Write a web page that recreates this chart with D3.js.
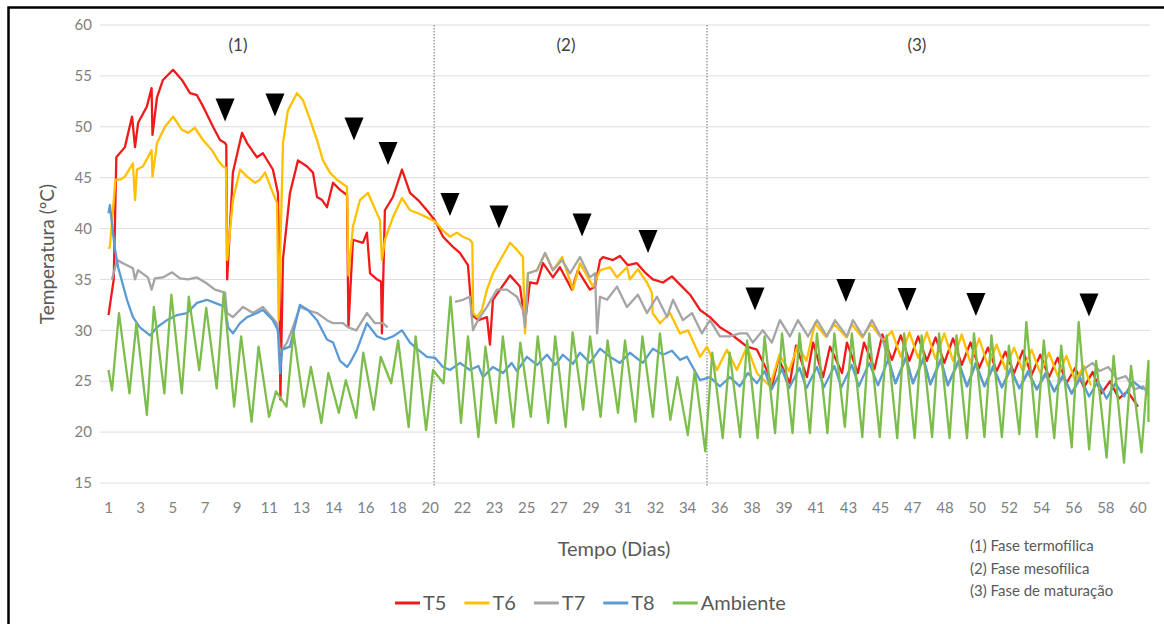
<!DOCTYPE html>
<html>
<head>
<meta charset="utf-8">
<script src="https://cdn.jsdelivr.net/npm/d3@7"></script>
<style>
  body { margin: 0; background: #fff; }
  text { font-family: Lato, "Open Sans", sans-serif; }
</style>
</head>
<body>
<div id="chart"></div>
<script>
// day labels shown under the category axis
const tickLabels = ["1","3","5","7","9","11","13","14","16","18","20","22","23","25","27","29","31","32","34","36","38","39","41","43","45","47","48","50","52","54","56","58","60"];
const yTicks = [15, 20, 25, 30, 35, 40, 45, 50, 55, 60];

const seriesNames = ["T5", "T6", "T7", "T8", "Ambiente"];
const seriesColors = ["#f01a1a", "#ffc000", "#a5a5a5", "#5b9bd5", "#7cbd4c"];

// phase boundaries (day) and phase captions
const phaseBounds = [19.66, 35.3];
const phaseLabels = ["(1)", "(2)", "(3)"];
const phaseLabelDays = [8.42, 27.22, 47.33];
const phaseNotes = ["(1) Fase termofílica", "(2) Fase mesofílica", "(3) Fase de maturação"];

// turning events [day, ºC]
const turnings = [[7.68, 51.65], [10.54, 52.14], [15.07, 49.78], [17.02, 47.38], [20.57, 42.37],
  [23.38, 41.14], [28.14, 40.35], [31.92, 38.73], [38.05, 33.08], [43.26, 33.92],
  [46.76, 33.03], [50.71, 32.54], [57.19, 32.5]];

// pile temperatures [day, ºC]
const t5 = [[1.0,31.5],[1.3,35],[1.45,47],[1.94,48],[2.35,51],[2.52,48],[2.7,50.4],[3.2,52],[3.47,53.8],[3.52,49.2],
  [3.78,52.9],[4.12,54.6],[4.7,55.6],[5.21,54.6],[5.67,53.3],[6.07,53.1],[6.42,52],[6.99,50],[7.39,48.7],[7.68,48.4],
  [7.75,48.2],[7.8,35],[8.13,45.5],[8.65,49.4],[8.94,48.4],[9.51,47],[9.85,47.4],[10.42,45.8],[10.71,43.5],[10.8,35],
  [10.85,23.2],[11.0,37],[11.4,43.5],[11.86,46.7],[12.38,46.1],[12.72,45.5],[12.95,43.1],[13.24,42.8],[13.52,42.1],[13.87,44.5],
  [14.27,43.8],[14.67,43.3],[14.75,30.3],[15.01,38.9],[15.58,38.6],[15.81,39.6],[15.99,35.6],[16.39,35],[16.62,34.8],[16.67,29.7],
  [16.84,41.8],[17.3,43.1],[17.82,45.8],[18.28,43.5],[18.74,42.8],[19.25,41.8],[19.71,40.8],[20.17,39.2],[20.74,38.2],[21.14,37.6],
  [21.6,36.4],[21.83,31.5],[22.2,31],[22.69,31.3],[22.86,28.6],[23.03,33],[23.44,34],[24.01,35.4],[24.58,34.3],[24.87,30.7],
  [25.15,34.7],[25.56,34.6],[25.9,36.6],[26.47,35.2],[26.87,36.2],[27.56,34],[27.9,35.9],[28.59,34],[28.88,34.3],[29.17,36.9],
  [29.34,37.2],[29.91,36.9],[30.31,37.3],[30.77,36.4],[31.28,36.6],[31.74,35.7],[32.2,35],[32.78,34.7],[33.29,35.3],[33.87,34.3],
  [34.33,33.5],[34.9,32],[35.47,31.3],[36.04,30.3],[36.61,29.7],[37.07,29.1],[37.59,28.4],[38.16,28.1],[38.73,26.1],[39.02,24.5],
  [39.4,27.2],[40.05,24.8],[40.4,28.5],[41.03,25.4],[41.38,28.8],[41.95,25.4],[42.35,28.4],[43.04,25.8],[43.32,28.8],[43.95,25.8],
  [44.3,28.8],[44.9,26.2],[45.35,29.6],[45.9,27.1],[46.4,29.5],[46.9,27],[47.4,29.4],[47.9,27],[48.4,29.3],[48.9,26.8],
  [49.4,29.2],[49.9,26.6],[50.4,28.8],[50.9,26.3],[51.4,28.3],[51.9,26],[52.4,27.9],[52.9,25.8],[53.4,28],[53.9,25.6],
  [54.4,27.6],[54.9,25.4],[55.4,27.3],[55.9,24.8],[56.4,26.3],[56.9,24.4],[57.4,25.9],[57.9,23.8],[58.4,25],[58.9,23.3],
  [59.4,24],[60.0,22.5]];

const t6 = [[1.0,38],[1.08,38.2],[1.4,44.8],[1.66,44.8],[1.94,45.1],[2.4,46.4],[2.52,42.8],[2.63,45.8],[2.97,46.1],[3.47,47.7],
  [3.52,45.1],[3.78,48.4],[4.24,50],[4.7,51],[5.21,49.7],[5.56,49.4],[5.95,49.9],[6.42,48.7],[6.93,47.7],[7.28,46.7],
  [7.56,46.1],[7.73,46],[7.8,36.9],[8.13,42.8],[8.54,45.8],[8.94,45.1],[9.4,44.5],[9.68,44.8],[9.97,45.5],[10.42,43.5],
  [10.66,42.5],[10.75,31],[11.0,48.4],[11.28,51.6],[11.8,53.3],[12.15,52.6],[12.55,50.7],[12.95,48.7],[13.29,46.7],[13.69,45.5],
  [14.09,44.8],[14.67,44.1],[14.75,35.4],[15.01,40.2],[15.41,42.8],[15.87,43.5],[16.56,40.8],[16.67,36.9],[16.84,38.9],[17.3,41.1],
  [17.82,43],[18.28,41.8],[18.74,41.5],[19.25,41.1],[19.71,40.7],[20.17,39.8],[20.57,39.2],[20.97,39.6],[21.31,39.2],[21.71,38.9],
  [21.85,38.6],[21.9,31.7],[22.12,31.3],[22.4,32],[22.69,34],[23.03,35.6],[23.55,37.2],[24.01,38.6],[24.41,37.9],[24.75,37.2],
  [24.87,29.7],[25.04,35.6],[25.56,35.9],[26.02,37.6],[26.47,35.9],[26.99,37.2],[27.62,34],[28.02,36.6],[28.77,34.3],[29.17,35.9],
  [29.74,36.2],[30.14,35.2],[30.71,36.2],[30.88,35],[31.34,36],[31.86,34.7],[32.14,33.7],[32.18,31.7],[32.61,30.7],[33.18,31.7],
  [33.75,29.7],[34.21,30],[34.9,27.4],[35.3,28.4],[35.87,26.1],[36.44,28.1],[37.01,26.1],[37.59,28.4],[38.16,25.8],[38.91,24.5],
  [39.45,27.6],[40.0,26],[40.5,28.5],[41.0,27],[41.49,30.7],[42.1,29.4],[42.6,30.6],[43.3,29.3],[43.6,30.6],[44.2,29.3],
  [44.7,30.6],[45.4,29],[45.9,29.9],[46.4,27.4],[46.9,29.8],[47.4,27.3],[47.9,29.8],[48.4,27.2],[48.9,29.7],[49.4,27],
  [49.9,29.6],[50.4,26.8],[50.9,29.2],[51.4,26.5],[51.9,28.6],[52.4,26.2],[52.9,28.3],[53.4,26],[53.9,28.1],[54.4,25.8],
  [54.9,27.8],[55.4,25.5],[55.9,27.5],[56.4,25],[56.9,26.5],[57.3,24.6]];

const t7 = [[1.2,35],[1.49,36.9],[1.83,36.6],[2.4,36.1],[2.52,35],[2.69,35.9],[3.26,35.2],[3.47,34],[3.66,35.1],[4.12,35.2],
  [4.64,35.7],[5.1,35.1],[5.56,35],[6.07,35.2],[6.64,34.6],[7.1,34],[7.68,33.7],[7.79,31.7],[8.13,31.3],[8.71,32.3],
  [9.28,31.7],[9.85,32.3],[10.66,30.7],[10.83,27.8],[11.23,28.8],[11.57,30.3],[11.97,32.3],[12.38,32],[12.95,31.7],[13.52,31],
  [13.87,30.7],[14.44,30.7],[14.73,30.3],[15.2,30],[15.81,31.7],[16.27,30.7],[16.73,30.7],[17.0,30.3],[17.05,null],
  [20.86,32.8],[21.31,33],[21.71,33.3],[21.89,30],[22.17,31],[22.69,32.3],[23.26,34],[23.84,34],[24.41,33.3],[24.75,32],
  [24.87,30.3],[25.04,35.6],[25.56,35.9],[26.02,37.6],[26.47,35.9],[26.99,36.9],[27.45,35.6],[28.02,37.2],[28.59,35.2],[28.88,35.6],
  [29.0,29.7],[29.17,33.3],[29.57,33],[30.14,34.3],[30.71,32.3],[31.34,33.5],[31.86,31.7],[32.43,33.3],[33.01,31.3],[33.35,33],
  [33.92,31],[34.44,31.7],[35.01,29.7],[35.47,31],[36.04,29.4],[36.61,29.4],[37.18,29.7],[37.59,29.7],[37.93,28.8],[38.5,30],
  [39.02,28.8],[39.48,31],[40.05,29.4],[40.51,31],[41.09,29.4],[41.6,31],[42.17,29.4],[42.63,31],[43.32,29.4],[43.66,31],
  [44.24,29.4],[44.75,31],[45.38,29],[45.7,27],[46.1,24.8],[46.7,27.2],[47.1,24.8],[47.7,27.1],[48.1,24.7],[48.7,27],
  [49.1,24.6],[49.7,26.8],[50.2,24.5],[50.7,26.6],[51.2,24.5],[51.7,26.3],[52.2,24.4],[52.7,26.1],[53.2,24.3],[53.7,25.8],
  [54.2,24.2],[54.7,25.6],[55.2,24],[55.7,25.4],[56.2,23.8],[56.9,26.2],[57.4,26.8],[57.8,26],[58.3,26.4],[58.8,25.2],
  [59.3,25.5],[59.8,24.2],[60.3,24.5],[60.6,23.6]];

const t8 = [[1.0,41.5],[1.08,42.3],[1.35,38.2],[1.55,36.2],[2.06,33],[2.4,31.3],[2.8,30.3],[3.38,29.5],[3.78,30.3],[4.35,31],
  [4.93,31.5],[5.5,31.7],[6.07,32.7],[6.64,33],[7.1,32.7],[7.68,32.3],[7.85,30.3],[8.13,29.7],[8.54,30.7],[8.94,31.3],
  [9.51,31.7],[9.85,32],[10.42,31],[10.71,30],[10.83,25.8],[10.95,28.1],[11.4,28.4],[11.97,32.5],[12.43,32],[12.95,31],
  [13.52,29.1],[13.87,28.8],[14.27,27],[14.67,26.4],[14.84,26.8],[15.24,28.1],[15.81,30.7],[16.39,29.4],[16.84,29.1],[17.3,29.4],
  [17.82,30],[18.28,28.8],[18.74,28.1],[19.25,27.4],[19.71,27.3],[20.17,26.4],[20.57,26.1],[21.14,26.8],[21.71,26.1],[22.2,26.5],
  [22.46,25.4],[23.03,26.4],[23.61,25.8],[24.1,26.8],[24.41,26],[24.98,27.4],[25.56,26.6],[26.13,27.6],[26.6,26.6],[27.04,27.6],
  [27.62,26.7],[28.02,27.8],[28.59,26.8],[29.17,28.2],[29.74,27.4],[30.31,26.8],[30.88,27.8],[31.62,26.8],[32.2,28.2],[32.78,27.6],
  [33.29,28],[33.75,27.1],[34.15,27.4],[34.9,25.1],[35.47,25.4],[36.04,24.5],[36.61,25.4],[37.18,24.5],[37.64,25.8],[38.16,24.8],
  [38.6,26],[39.0,24.2],[39.6,26.2],[40.0,24.3],[40.6,26.3],[41.0,24.3],[41.6,26.4],[42.0,24.4],[42.6,26.5],[43.0,24.4],
  [43.6,26.6],[44.0,24.5],[44.6,26.8],[45.1,24.6],[45.7,27.2],[46.1,24.8],[46.7,27.4],[47.1,24.8],[47.7,27.3],[48.1,24.7],
  [48.7,27.2],[49.1,24.6],[49.7,27],[50.2,24.5],[50.7,26.8],[51.2,24.5],[51.7,26.5],[52.2,24.4],[52.7,26.3],[53.2,24.3],
  [53.7,26],[54.2,24.2],[54.7,25.8],[55.2,24],[55.7,25.6],[56.2,23.8],[56.7,25.3],[57.2,23.5],[57.7,25],[58.2,23.3],
  [58.7,24.8],[59.2,23.5],[59.7,25],[60.3,24.2]];

// ambient: daily minimum and maximum, days 1..60
const ambStart = [1.0, 26.1];
const ambEnd = [60.6, 21];
const ambLow = [24.1,23.8,21.7,23.8,23.8,26.1,24.3,22.5,21.0,21.5, 22.5,22.5,20.9,21.9,21.4,22.2,24.8,20.5,20.2,24.8,
  20.9,19.5,20.9,20.5,21.5,20.9,20.5,22.2,21.5,21.9, 21.0,21.5,21.2,19.7,18.1,19.4,19.5,19.4,19.9,19.9,
  19.9,19.9,20.5,19.5,19.5,19.4,19.4,19.5,19.4,19.4, 19.5,19.5,19.8,19.5,19.4,18.5,18.3,17.5,17.0,18.0];
const ambPeak = [31.7,30.7,32.3,33.5,33.3,32.2,33.7,29.4,28.4,24.0, 29.8,26.4,25.8,25.1,27.8,27.4,29.0,29.4,26.1,33.3,
  29.4,28.4,29.4,28.8,29.4,29.4,29.8,29.4,29.0,29.0, 29.4,29.7,25.4,26.1,27.8,27.8,29.0,29.4,29.7,29.7,
  29.7,29.7,29.7,29.7,29.5,29.7,29.5,29.7,29.5,29.7, 29.5,28.5,30.8,29.0,28.5,30.8,27.0,27.5,26.5,27.0];

const ambient = [ambStart];
ambLow.forEach((lo, i) => {
  ambient.push([i + 1.2, lo]);
  ambient.push([i + 1.6, ambPeak[i]]);
});
ambient.push(ambEnd);

const allSeries = [t5, t6, t7, t8, ambient];

const width = 1164, height = 624;
const plot = { left: 100, right: 1150, top: 25, bottom: 483 };

const svg = d3.select("#chart").append("svg")
  .attr("width", width)
  .attr("height", height);

const x = d3.scaleLinear().domain([1, 60]).range([108.5, 1138]);
const y = d3.scaleLinear().domain([15, 60]).range([plot.bottom, plot.top]);

// frame (only top and left edges fall inside the page)
svg.append("path")
  .attr("d", `M8.5,${height + 5}V7.5H${width + 5}`)
  .attr("fill", "none")
  .attr("stroke", "#000")
  .attr("stroke-width", 2.5);

// horizontal grid
svg.append("g")
  .selectAll("line")
  .data(yTicks)
  .join("line")
  .attr("x1", plot.left)
  .attr("x2", plot.right)
  .attr("y1", d => y(d))
  .attr("y2", d => y(d))
  .attr("stroke", "#dedede")
  .attr("stroke-width", 1);

// y labels
svg.append("g")
  .selectAll("text")
  .data(yTicks)
  .join("text")
  .attr("x", 92)
  .attr("y", d => y(d))
  .attr("dy", "0.35em")
  .attr("text-anchor", "end")
  .attr("font-size", 15)
  .attr("fill", "#808080")
  .text(d => d);

// x labels: every category label slot is evenly spaced along the axis
const slot = (60 - 1) / (tickLabels.length - 1);
svg.append("g")
  .selectAll("text")
  .data(tickLabels)
  .join("text")
  .attr("x", (d, i) => x(1 + i * slot))
  .attr("y", 508)
  .attr("dy", "0.35em")
  .attr("text-anchor", "middle")
  .attr("font-size", 15)
  .attr("fill", "#808080")
  .text(d => d);

// phase dividers
svg.append("g")
  .selectAll("line")
  .data(phaseBounds)
  .join("line")
  .attr("x1", d => x(d))
  .attr("x2", d => x(d))
  .attr("y1", y(60))
  .attr("y2", y(15) + 4)
  .attr("stroke", "#6f6f6f")
  .attr("stroke-width", 1)
  .attr("stroke-dasharray", "1.5,1.5");

svg.append("g")
  .selectAll("text")
  .data(phaseLabels)
  .join("text")
  .attr("x", (d, i) => x(phaseLabelDays[i]))
  .attr("y", 45)
  .attr("dy", "0.35em")
  .attr("text-anchor", "middle")
  .attr("font-size", 17)
  .attr("fill", "#404040")
  .text(d => d);

// series lines
const line = d3.line()
  .defined(d => d[1] != null)
  .x(d => x(d[0]))
  .y(d => y(d[1]));

svg.append("g")
  .selectAll("path")
  .data(allSeries)
  .join("path")
  .attr("d", line)
  .attr("fill", "none")
  .attr("stroke", (d, i) => seriesColors[i])
  .attr("stroke-width", 2.3)
  .attr("stroke-linejoin", "round");

// turning markers
const tw = 9.5, th = 23;
svg.append("g")
  .selectAll("path")
  .data(turnings)
  .join("path")
  .attr("d", d => {
    const cx = x(d[0]), cy = y(d[1]);
    return `M${cx - tw},${cy - th / 2}L${cx + tw},${cy - th / 2}L${cx},${cy + th / 2}Z`;
  })
  .attr("fill", "#000");

// axis titles
svg.append("text")
  .attr("x", 614)
  .attr("y", 549)
  .attr("dy", "0.35em")
  .attr("text-anchor", "middle")
  .attr("font-size", 20)
  .attr("fill", "#595959")
  .text("Tempo (Dias)");

svg.append("text")
  .attr("transform", "translate(47,254) rotate(-90)")
  .attr("dy", "0.35em")
  .attr("text-anchor", "middle")
  .attr("font-size", 19)
  .attr("fill", "#595959")
  .text("Temperatura (ºC)");

// legend
const legend = svg.append("g").attr("transform", "translate(395,603)");
let lx = 0;
seriesNames.forEach((name, i) => {
  legend.append("line")
    .attr("x1", lx).attr("x2", lx + 25)
    .attr("y1", 0).attr("y2", 0)
    .attr("stroke", seriesColors[i])
    .attr("stroke-width", 3);
  const t = legend.append("text")
    .attr("x", lx + 28)
    .attr("dy", "0.35em")
    .attr("font-size", 20)
    .attr("fill", "#595959")
    .text(name);
  lx += 28 + t.node().getComputedTextLength() + 18;
});

// phase notes
svg.append("g")
  .selectAll("text")
  .data(phaseNotes)
  .join("text")
  .attr("x", 970)
  .attr("y", (d, i) => 546 + i * 22.5)
  .attr("dy", "0.35em")
  .attr("font-size", 15)
  .attr("fill", "#595959")
  .text(d => d);
</script>
</body>
</html>
